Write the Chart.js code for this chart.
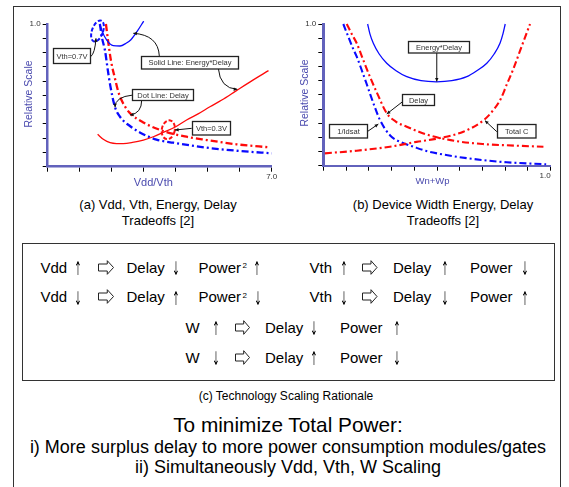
<!DOCTYPE html>
<html>
<head>
<meta charset="utf-8">
<script src="https://cdn.jsdelivr.net/npm/chart.js@4.4.1/dist/chart.umd.min.js"></script>
<style>
html,body{margin:0;padding:0;background:#fff;}
#page{position:relative;width:569px;height:487px;overflow:hidden;background:#fff;font-family:"Liberation Sans",Arial,Helvetica,sans-serif;color:#000;}
#outer{position:absolute;left:13px;top:6px;width:548px;height:500px;border:1px solid #333;box-sizing:border-box;}
#inner{position:absolute;left:22px;top:243px;width:533px;height:138px;border:1px solid #333;box-sizing:border-box;}
canvas{position:absolute;top:0;}
#ca{left:0;}
#cb{left:290px;}
.t{position:absolute;font-size:15px;line-height:15px;white-space:nowrap;}
.g{position:absolute;font-family:"DejaVu Sans",sans-serif;font-size:19px;line-height:15px;width:20px;text-align:center;white-space:nowrap;transform:scaleX(0.45);will-change:transform;color:#000;}
.sup{position:absolute;font-size:8px;line-height:8px;white-space:nowrap;}
.cap{position:absolute;text-align:center;white-space:nowrap;}
svg.arr{position:absolute;overflow:visible;}
</style>
</head>
<body>
<div id="page">
  <div id="outer"></div>
  <canvas id="ca" width="290" height="195"></canvas>
  <canvas id="cb" width="275" height="195"></canvas>

  <div class="cap" style="left:58px;top:197px;width:200px;font-size:13px;line-height:16px;">(a) Vdd, Vth, Energy, Delay<br>Tradeoffs [2]</div>
  <div class="cap" style="left:343px;top:197px;width:200px;font-size:13px;line-height:16px;">(b) Device Width Energy, Delay<br>Tradeoffs [2]</div>

  <div id="inner"></div>

  <div class="cap" style="left:86px;top:389px;width:400px;font-size:12px;line-height:14px;">(c) Technology Scaling Rationale</div>
  <div class="cap" style="left:0;top:413px;width:576px;font-size:20.8px;line-height:24px;">To minimize Total Power:</div>
  <div class="cap" style="left:0;top:437px;width:576px;font-size:18px;line-height:20px;">i) More surplus delay to more power consumption modules/gates</div>
  <div class="cap" style="left:0;top:457px;width:576px;font-size:18px;line-height:20px;">ii) Simultaneously Vdd, Vth, W Scaling</div>
</div>

<script>
// ---------------- DATA ----------------
// (a) Vdd/Vth sweep, relative scale
const aDelayVth07X = [1.63,1.70,1.79,1.87,1.95,2.10,2.26,2.60,2.88,3.40,3.93,4.97,6.00,7.00];
const aDelayVth07Y = [1.00,0.90,0.815,0.69,0.575,0.42,0.35,0.28,0.24,0.19,0.168,0.133,0.11,0.094];
const aDelayVth03X = [1.82,1.90,1.98,2.10,2.20,2.31,2.45,2.57,2.99,3.61,4.34,4.97,5.90,6.95];
const aDelayVth03Y = [1.00,0.86,0.74,0.62,0.53,0.465,0.41,0.375,0.31,0.25,0.21,0.187,0.157,0.135];
const aEDVth07X = [1.63,1.70,1.84,2.05,2.26,2.45,2.60,2.80,3.00];
const aEDVth07Y = [1.00,0.95,0.888,0.848,0.846,0.865,0.89,0.95,1.02];
const aEDVth03X = [1.56,1.75,1.95,2.15,2.36,2.65,2.99,3.30,3.61,4.00,4.34,4.70,5.07,5.44,5.91,6.40,6.90];
const aEDVth03Y = [0.227,0.19,0.168,0.162,0.162,0.17,0.187,0.21,0.241,0.28,0.327,0.37,0.42,0.467,0.535,0.605,0.673];
const aXTicks = {min:0, max:7, step:1, label:'7.0'};

// (b) Wn+Wp sweep, relative scale
const bEDX = [0.195,0.205,0.22,0.245,0.279,0.32,0.367,0.43,0.498,0.565,0.631,0.675,0.719,0.752,0.777,0.79,0.80];
const bEDY = [1.00,0.93,0.864,0.79,0.723,0.67,0.628,0.60,0.592,0.60,0.628,0.67,0.723,0.79,0.864,0.93,1.00];
const bIdsatX = [0.088,0.11,0.13,0.147,0.17,0.19,0.205,0.225,0.25,0.293,0.35,0.396,0.45,0.50,0.60,0.70,0.806,0.98];
const bIdsatY = [1.00,0.91,0.83,0.77,0.67,0.58,0.51,0.42,0.32,0.215,0.16,0.134,0.105,0.087,0.06,0.04,0.024,0.01];
const bDelayX = [0.103,0.125,0.147,0.176,0.205,0.24,0.279,0.32,0.367,0.42,0.469,0.513,0.60,0.70,0.806,0.968];
const bDelayY = [1.00,0.93,0.864,0.745,0.628,0.50,0.37,0.31,0.275,0.24,0.213,0.195,0.17,0.153,0.144,0.134];
const bTotCX = [0.007,0.147,0.293,0.41,0.513,0.616,0.704,0.748,0.78,0.806,0.835,0.865,0.909];
const bTotCY = [0.087,0.106,0.134,0.168,0.195,0.24,0.32,0.393,0.47,0.57,0.68,0.81,1.00];
const bXTicks = {min:0, max:1, step:0.1, label:'1.0'};
const yTicks = {min:0, max:1, step:0.1, label:'1.0'};

// Annotations (data coordinates)
const aBoxes = [
  {x:0.759, y:0.777, text:'Vth=0.7V'},
  {x:4.416, y:0.732, text:'Solid Line: Energy*Delay'},
  {x:3.603, y:0.505, text:'Dot Line: Delay'},
  {x:5.088, y:0.275, text:'Vth=0.3V'}
];
const aLinks = [
  {from:[1.344,0.771], ctrl:[1.478,0.795], to:[1.509,0.90]},
  {from:[3.488,0.776], ctrl:[3.456,0.923], to:[2.675,0.935]},
  {from:[5.331,0.690], ctrl:[5.384,0.549], to:[5.925,0.542]},
  {from:[2.656,0.502], ctrl:[2.10,0.49], to:[2.103,0.416]},
  {from:[2.938,0.467], ctrl:[2.938,0.374], to:[2.572,0.362]},
  {from:[4.50,0.269], to:[3.978,0.257]}
];
const aRings = [
  {x:1.556, y:0.951, color:'#1010ff'},
  {x:3.769, y:0.259, color:'#ff1010'}
];
const bBoxes = [
  {x:0.508, y:0.836, text:'Energy*Delay'},
  {x:0.418, y:0.466, text:'Delay'},
  {x:0.110, y:0.247, text:'1/Idsat'},
  {x:0.847, y:0.247, text:'Total C'}
];
const bLinks = [
  {from:[0.499,0.797], to:[0.499,0.594]},
  {from:[0.347,0.450], to:[0.279,0.365]},
  {from:[0.193,0.240], to:[0.242,0.294]},
  {from:[0.763,0.240], to:[0.711,0.318]}
];

// ---------------- HELPERS ----------------
const FAM = '"Liberation Sans", Arial, Helvetica, sans-serif';
const zip = (xs, ys) => xs.map((x, i) => ({x: x, y: ys[i]}));
const BLUE = '#0a0aff', RED = '#ff0a0a', AXIS = '#6262bc', TITLE = '#4a4aae';
const boxSize = {
  'Vth=0.7V':[37,15], 'Solid Line: Energy*Delay':[97,12.5], 'Dot Line: Delay':[61,11],
  'Vth=0.3V':[38,13.5], 'Energy*Delay':[61,11.5], 'Delay':[32,11], '1/Idsat':[38,13.5], 'Total C':[38.5,13.5]
};

function arrowHead(ctx, x0, y0, x1, y1) {
  const a = Math.atan2(y1 - y0, x1 - x0), s = 4;
  ctx.beginPath();
  ctx.moveTo(x1, y1);
  ctx.lineTo(x1 - s * Math.cos(a - 0.45), y1 - s * Math.sin(a - 0.45));
  ctx.lineTo(x1 - s * Math.cos(a + 0.45), y1 - s * Math.sin(a + 0.45));
  ctx.closePath();
  ctx.fill();
}

function makeAnnot(boxes, links, rings, titles) {
  return {
    id: 'annot',
    afterDatasetsDraw(chart) {
      const ctx = chart.ctx, sx = chart.scales.x, sy = chart.scales.y;
      const P = (p) => [sx.getPixelForValue(p[0]), sy.getPixelForValue(p[1])];
      ctx.save();
      (rings || []).forEach((r, i) => {
        const c = P([r.x, r.y]);
        ctx.strokeStyle = r.color; ctx.lineWidth = 2; ctx.setLineDash([4, 2]);
        ctx.beginPath();
        if (i === 0) ctx.ellipse(c[0], c[1], 5.5, 11, 0.35, 0, Math.PI * 2);
        else ctx.ellipse(c[0], c[1], 6.5, 9.5, 0.2, 0, Math.PI * 2);
        ctx.stroke();
      });
      ctx.setLineDash([]);
      ctx.strokeStyle = '#111'; ctx.fillStyle = '#111'; ctx.lineWidth = 1;
      links.forEach(l => {
        const f = P(l.from), t = P(l.to);
        ctx.beginPath(); ctx.moveTo(f[0], f[1]);
        let pre = f;
        if (l.ctrl) { const c = P(l.ctrl); ctx.quadraticCurveTo(c[0], c[1], t[0], t[1]); pre = c; }
        else ctx.lineTo(t[0], t[1]);
        ctx.stroke();
        arrowHead(ctx, pre[0], pre[1], t[0], t[1]);
      });
      boxes.forEach(b => {
        const c = P([b.x, b.y]), sz = boxSize[b.text];
        const x = Math.round(c[0] - sz[0] / 2) + 0.5, y = Math.round(c[1] - sz[1] / 2) + 0.5;
        ctx.fillStyle = '#fff'; ctx.fillRect(x, y, sz[0], sz[1]);
        ctx.strokeStyle = '#222'; ctx.lineWidth = 1.3; ctx.strokeRect(x, y, sz[0], sz[1]);
        ctx.fillStyle = '#333'; ctx.font = '7.5px ' + FAM;
        ctx.textAlign = 'center'; ctx.textBaseline = 'middle';
        ctx.fillText(b.text, x + sz[0] / 2, y + sz[1] / 2 + 0.5);
      });
      ctx.restore();
    },
    afterDraw(chart) {
      const ctx = chart.ctx;
      ctx.save();
      ctx.fillStyle = TITLE; ctx.textAlign = 'center'; ctx.textBaseline = 'middle';
      titles.forEach(t => {
        ctx.save();
        ctx.font = t.size + 'px ' + FAM;
        ctx.translate(t.x, t.y);
        if (t.rot) ctx.rotate(-Math.PI / 2);
        ctx.fillText(t.text, 0, 0);
        ctx.restore();
      });
      ctx.restore();
    }
  };
}

function lineDs(xs, ys, color, dashed, w) {
  return {
    data: zip(xs, ys), borderColor: color, backgroundColor: color,
    borderWidth: w, borderDash: dashed ? [7, 3, 2, 3] : [],
    pointRadius: 0, fill: false, cubicInterpolationMode: 'monotone', clip: 3
  };
}

function axisOpts(t, fitKey, fitVal, borderW, align) {
  return {
    type: 'linear', min: t.min, max: t.max,
    afterFit(s) { s[fitKey] = fitVal; },
    ticks: {
      stepSize: t.step, autoSkip: false, maxRotation: 0, color: '#333',
      font: {size: 8, family: FAM}, padding: fitKey === 'height' ? 0 : 2, align: align || 'center',
      callback: (v) => Math.abs(v - t.max) < 1e-9 ? t.label : ''
    },
    grid: {drawOnChartArea: false, drawTicks: true, tickLength: 5, tickColor: '#000', color: '#000', lineWidth: 1},
    border: {display: true, color: AXIS, width: borderW}
  };
}

Chart.defaults.font.family = FAM;

new Chart(document.getElementById('ca'), {
  type: 'line',
  data: {datasets: [
    lineDs(aEDVth03X, aEDVth03Y, RED, false, 1.3),
    lineDs(aEDVth07X, aEDVth07Y, BLUE, false, 1.3),
    lineDs(aDelayVth07X, aDelayVth07Y, BLUE, true, 2.3),
    lineDs(aDelayVth03X, aDelayVth03Y, RED, true, 2.3)
  ]},
  options: {
    responsive: false, animation: false, devicePixelRatio: 1,
    plugins: {legend: {display: false}, tooltip: {enabled: false}},
    layout: {padding: {top: 24, right: 18.3, left: 0, bottom: 0}},
    scales: {
      x: axisOpts(aXTicks, 'height', 28.3, 2.5),
      y: axisOpts(yTicks, 'width', 47.7, 2.5)
    }
  },
  plugins: [makeAnnot(aBoxes, aLinks, aRings, [
    {text: 'Relative Scale', x: 29, y: 94, size: 10.5, rot: true},
    {text: 'Vdd/Vth', x: 153.3, y: 183.3, size: 11}
  ])]
});

new Chart(document.getElementById('cb'), {
  type: 'line',
  data: {datasets: [
    lineDs(bEDX, bEDY, BLUE, false, 1.3),
    lineDs(bTotCX, bTotCY, RED, true, 2.1),
    lineDs(bDelayX, bDelayY, RED, true, 2.1),
    lineDs(bIdsatX, bIdsatY, BLUE, true, 2.1)
  ]},
  options: {
    responsive: false, animation: false, devicePixelRatio: 1,
    plugins: {legend: {display: false}, tooltip: {enabled: false}},
    layout: {padding: {top: 24, right: 14.3, left: 0, bottom: 0}},
    scales: {
      x: axisOpts(bXTicks, 'height', 29.3, 2, 'end'),
      y: axisOpts(yTicks, 'width', 33.3, 3)
    }
  },
  plugins: [makeAnnot(bBoxes, bLinks, [], [
    {text: 'Relative Scale', x: 15, y: 93, size: 10.5, rot: true},
    {text: 'Wn+Wp', x: 142.5, y: 181.7, size: 9.5}
  ])]
});

// ---------------- scaling rationale rows ----------------
const rowTops = [259.5, 289.2, 319.8, 349.8];
const rows = [
  [['t','Vdd',40.5],['g','↑',78],['a',97.5,16],['t','Delay',126.5],['g','↓',176],['t','Power',198.5],['s','2',242.5],['g','↑',256.7],
   ['t','Vth',309.5],['g','↑',344],['a',361.5,15.5],['t','Delay',393],['g','↑',444.5],['t','Power',470],['g','↓',525]],
  [['t','Vdd',40.5],['g','↓',78],['a',97.5,16],['t','Delay',126.5],['g','↑',176],['t','Power',198.5],['s','2',242.5],['g','↓',258],
   ['t','Vth',309.5],['g','↓',344],['a',361.5,15.5],['t','Delay',393],['g','↓',444.5],['t','Power',470],['g','↑',525]],
  [['t','W',185.5],['g','↑',215.5],['a',235,15],['t','Delay',265],['g','↓',313.5],['t','Power',340],['g','↑',397]],
  [['t','W',185.5],['g','↓',215.5],['a',235,15],['t','Delay',265],['g','↑',313.5],['t','Power',340],['g','↓',397]]
];
const page = document.getElementById('page');
rows.forEach((r, i) => {
  const top = rowTops[i];
  r.forEach(it => {
    if (it[0] === 'a') {
      const w = it[2], h = 15;
      const ns = 'http://www.w3.org/2000/svg';
      const svg = document.createElementNS(ns, 'svg');
      svg.setAttribute('class', 'arr');
      svg.setAttribute('width', w); svg.setAttribute('height', h);
      svg.style.left = it[1] + 'px'; svg.style.top = top + 'px';
      const pg = document.createElementNS(ns, 'polygon');
      const hx = w * 0.58;
      pg.setAttribute('points', `0.5,4 ${hx},4 ${hx},0.7 ${w-0.5},7.5 ${hx},14.3 ${hx},11 0.5,11`);
      pg.setAttribute('fill', '#fff'); pg.setAttribute('stroke', '#222'); pg.setAttribute('stroke-width', '1');
      svg.appendChild(pg);
      page.appendChild(svg);
      return;
    }
    const d = document.createElement('div');
    d.textContent = it[1];
    if (it[0] === 't') { d.className = 't'; d.style.left = it[2] + 'px'; d.style.top = top + 'px'; }
    else if (it[0] === 'g') { d.className = 'g'; d.style.left = (it[2] - 10) + 'px'; d.style.top = (top + 1.3) + 'px'; }
    else { d.className = 'sup'; d.style.left = it[2] + 'px'; d.style.top = (top + 2.5) + 'px'; }
    page.appendChild(d);
  });
});
</script>
</body>
</html>
